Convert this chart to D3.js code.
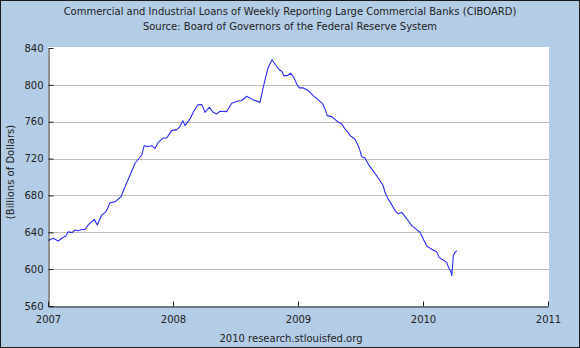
<!DOCTYPE html>
<html><head><meta charset="utf-8">
<script src="https://cdn.jsdelivr.net/npm/d3@7"></script>
<style>html,body{margin:0;padding:0;background:#fff}svg{display:block}</style>
</head><body><svg id="c" width="580" height="348"></svg>
<script>
const titleLines = ["Commercial and Industrial Loans of Weekly Reporting Large Commercial Banks (CIBOARD)",
                    "Source: Board of Governors of the Federal Reserve System"];
const yLabel = "(Billions of Dollars)";
const credit = "2010 research.stlouisfed.org";
const xTicks = [2007, 2008, 2009, 2010, 2011];
const yTicks = [560, 600, 640, 680, 720, 760, 800, 840];

// decimal-year dates
const years = [2007.002,2007.042,2007.082,2007.110,2007.142,2007.162,2007.194,2007.216,2007.242,2007.270,
  2007.296,2007.322,2007.370,2007.394,2007.430,2007.456,2007.470,2007.496,2007.536,2007.584,
  2007.616,2007.656,2007.696,2007.750,2007.770,2007.802,2007.830,2007.856,2007.882,2007.922,
  2007.950,2007.990,2008.030,2008.056,2008.078,2008.096,2008.136,2008.162,2008.198,2008.230,
  2008.256,2008.290,2008.322,2008.350,2008.376,2008.430,2008.470,2008.514,2008.550,2008.590,
  2008.642,2008.696,2008.722,2008.744,2008.762,2008.792,2008.824,2008.850,2008.870,2008.888,
  2008.914,2008.942,2008.968,2008.990,2009.010,2009.042,2009.082,2009.122,2009.162,2009.198,
  2009.216,2009.234,2009.270,2009.314,2009.350,2009.376,2009.402,2009.416,2009.456,2009.482,
  2009.496,2009.510,2009.536,2009.562,2009.590,2009.630,2009.656,2009.682,2009.696,2009.722,
  2009.750,2009.776,2009.802,2009.830,2009.856,2009.882,2009.910,2009.944,2009.976,2010.002,
  2010.030,2010.070,2010.110,2010.130,2010.162,2010.190,2010.210,2010.222,2010.230,2010.238,
  2010.242,2010.256,2010.270];
// billions of dollars
const loans = [631,633.5,630.5,633.5,636,640.6,639.6,642.5,641.7,643,
  643,648,654,648,658.8,661.3,664,672,673,678.6,
  689.5,702,714.9,723.9,734,733,734,731,737.6,742.4,
  742.4,750.3,751.4,754.7,761.2,755.8,763,770.2,778.3,778.6,
  770.2,775.7,770.2,768.5,771.3,771,780,782.2,783,787.6,
  783.7,781,797.4,810,819.1,827.2,821,816.3,814.8,810,
  810,812.6,807.6,801,796.7,796.7,793.8,788.4,783.7,779.3,
  773.9,766.6,765.5,760.4,757.5,752,748.5,745,741,734,
  728.6,722,720.6,714,708.6,701.3,696,690.5,683.4,676,
  670,663.5,660,661.6,657,652.5,647.2,643.5,640,632.8,
  625,621.5,618.5,612.5,610,607,600,598,593,605.5,
  614.5,618,620];

const W = 580, H = 348;
const m = {left: 48, right: 548, top: 48, bottom: 306};
const font = "'DejaVu Sans', Verdana, sans-serif";
const ink = "#222";

const svg = d3.select("#c");
svg.append("rect").attr("x", 0.5).attr("y", 0.5).attr("width", W - 1).attr("height", H - 1)
  .attr("fill", "#b4cde6").attr("stroke", "#1a1a1a");

const x = d3.scaleLinear().domain([xTicks[0], xTicks[xTicks.length - 1]]).range([m.left, m.right]);
const y = d3.scaleLinear().domain([yTicks[0], yTicks[yTicks.length - 1]]).range([m.bottom, m.top]);

svg.append("rect").attr("x", m.left).attr("y", m.top - 1).attr("width", m.right - m.left + 1)
  .attr("height", m.bottom - m.top + 1).attr("fill", "#fff");

// gridlines
svg.append("g").selectAll("line").data(yTicks.slice(1, -1)).join("line")
  .attr("x1", m.left).attr("x2", m.right + 1)
  .attr("y1", d => Math.round(y(d)) + 0.5).attr("y2", d => Math.round(y(d)) + 0.5)
  .attr("stroke", "#bdbdbd").attr("stroke-width", 1.2);

// line
const line = d3.line().x((d, i) => x(years[i])).y(d => y(d));
svg.append("path").datum(loans).attr("d", line)
  .attr("fill", "none").attr("stroke", "#2b2bff").attr("stroke-width", 1.1)
  .attr("stroke-linejoin", "round");

// axes
const ya = svg.append("g").attr("transform", `translate(${m.left + 0.5},0)`)
  .call(d3.axisLeft(y).tickValues(yTicks).tickFormat(d3.format("d")).tickSizeInner(-5).tickSizeOuter(0).tickPadding(5));
const xa = svg.append("g").attr("transform", `translate(0,${m.bottom + 0.5})`)
  .call(d3.axisBottom(x).tickValues(xTicks).tickFormat(d3.format("d")).tickSizeInner(-5).tickSizeOuter(0).tickPadding(9));
[ya, xa].forEach(g => {
  g.select(".domain").attr("stroke", ink);
  g.selectAll(".tick line").attr("stroke", ink);
  g.selectAll("text").attr("fill", ink).style("font-family", font).style("font-size", "10px");
});

// titles
svg.append("g").selectAll("text").data(titleLines).join("text")
  .attr("x", 290).attr("y", (d, i) => 15 + i * 14.5).attr("text-anchor", "middle")
  .style("font-family", font).style("font-size", "10px").attr("fill", ink).text(d => d);

svg.append("text").attr("transform", "translate(14,172) rotate(-90)").attr("text-anchor", "middle")
  .style("font-family", font).style("font-size", "10px").attr("fill", ink).text(yLabel);

svg.append("text").attr("x", 291).attr("y", 342).attr("text-anchor", "middle")
  .style("font-family", font).style("font-size", "10px").attr("fill", ink).text(credit);
</script></body></html>
